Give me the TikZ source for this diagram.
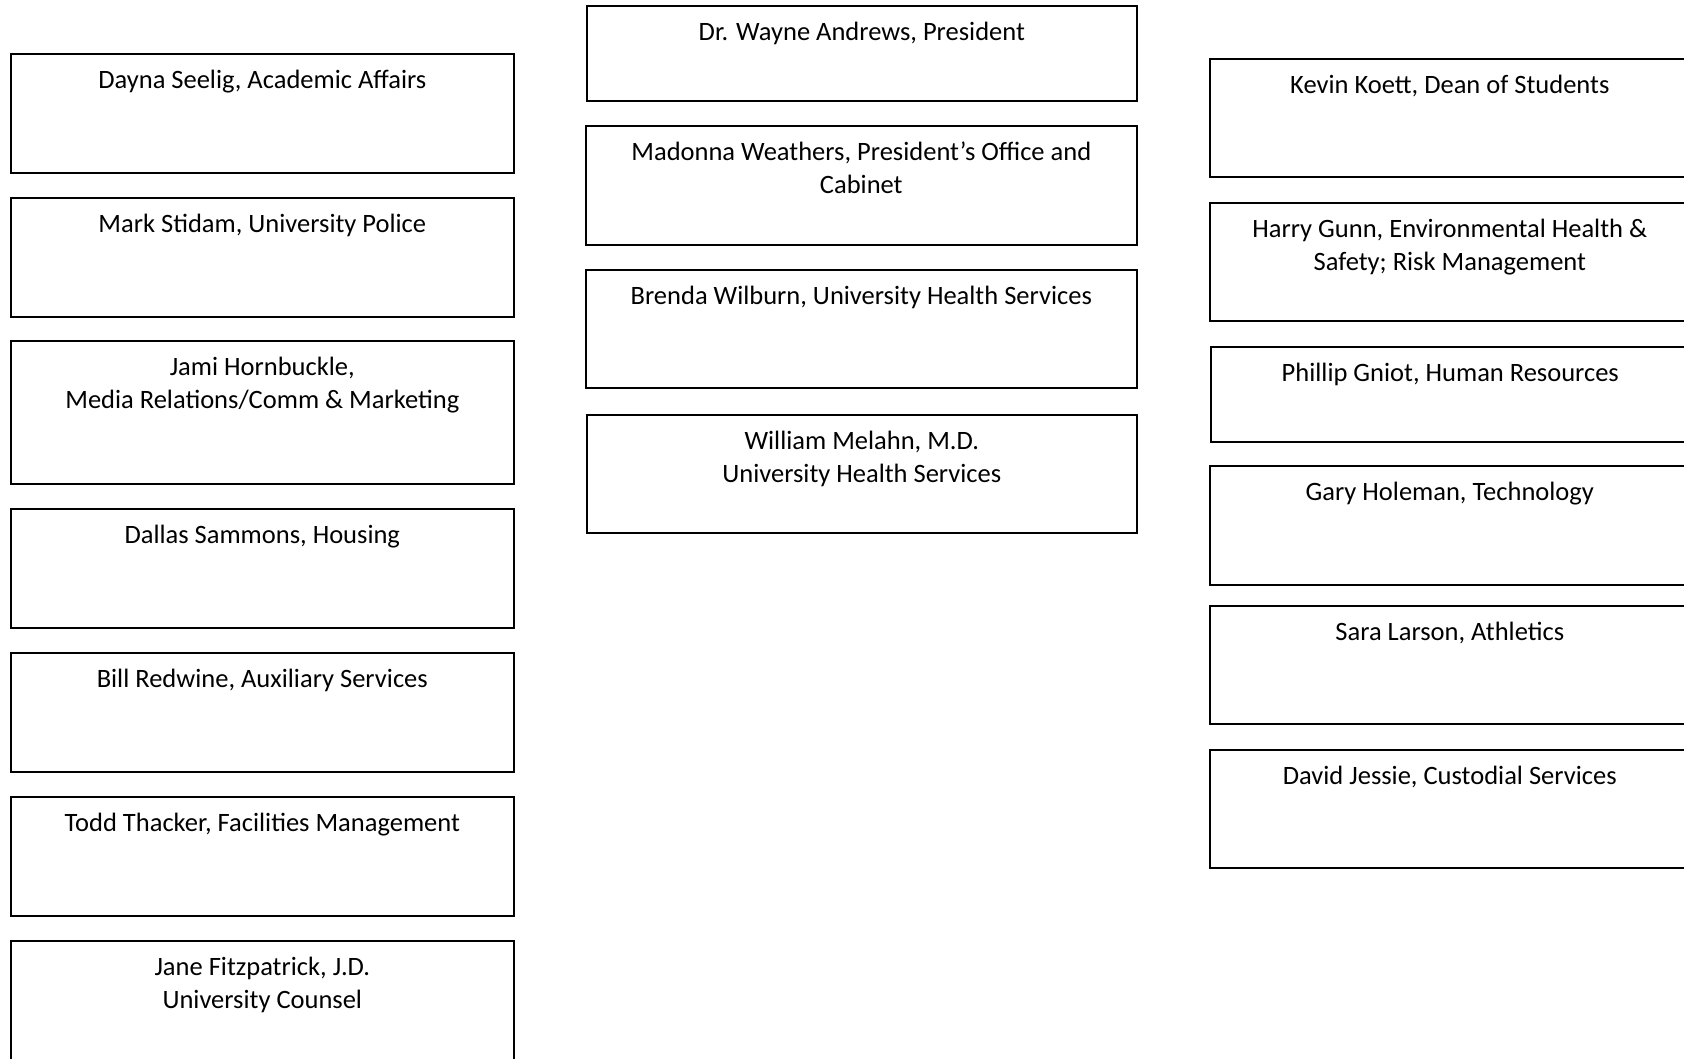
\documentclass[tikz,border=0pt]{standalone}
\usepackage{fontspec}
\setmainfont{Carlito}
\usetikzlibrary{calc}
\tikzset{
  orgbox/.style={draw=black, line width=1.6pt, fill=white, inner sep=0pt, anchor=north west, rectangle},
  orglbl/.style={inner sep=0pt, align=center, anchor=base, font=\fontsize{26.5}{33}\selectfont}
}
% #7 = extra shift for the last line's baseline (0 for one line, 33 for two)
\newcommand\obox[7][0]{%
  \node[orgbox, minimum width=#5pt, minimum height=#6pt] (#2) at (#3,#4) {};
  \node[orglbl] (#2t) at ($(#2.north)+(0,35+#1)$) {#7};
}
\begin{document}
\begin{tikzpicture}[x=1pt,y=-1pt]
\useasboundingbox[fill=white] (0,0) rectangle (1684,1058);
\clip (0,0) rectangle (1684,1058);
% left column
\obox{L1}{10}{53}{503}{119}{Dayna Seelig, Academic Affairs}
\obox{L2}{10}{197}{503}{119}{Mark Stidam, University Police}
\obox[33]{L3}{10}{340}{503}{143}{Jami Hornbuckle,\\Media Relations/Comm \& Marketing}
\obox{L4}{10}{508}{503}{119}{Dallas Sammons, Housing}
\obox{L5}{10}{652}{503}{119}{Bill Redwine, Auxiliary Services}
\obox{L6}{10}{796}{503}{119}{Todd Thacker, Facilities Management}
\obox[33]{L7}{10}{940}{503}{140}{Jane Fitzpatrick, J.D.\\University Counsel}
% middle column
\obox{M1}{586}{5}{550}{95}{Dr. Wayne Andrews, President}
\obox[33]{M2}{585}{125}{551}{119}{Madonna Weathers, President’s Office and\\Cabinet}
\obox{M3}{585}{269}{551}{118}{Brenda Wilburn, University Health Services}
\obox[33]{M4}{586}{414}{550}{118}{William Melahn, M.D.\\University Health Services}
% right column
\obox{R1}{1209}{58}{480}{118}{Kevin Koett, Dean of Students}
\obox[33]{R2}{1209}{202}{480}{118}{Harry Gunn, Environmental Health \&\\Safety; Risk Management}
\obox{R3}{1210}{346}{479}{95}{Phillip Gniot, Human Resources}
\obox{R4}{1209}{465}{480}{119}{Gary Holeman, Technology}
\obox{R5}{1209}{605}{480}{118}{Sara Larson, Athletics}
\obox{R6}{1209}{749}{480}{118}{David Jessie, Custodial Services}
\end{tikzpicture}
\end{document}
